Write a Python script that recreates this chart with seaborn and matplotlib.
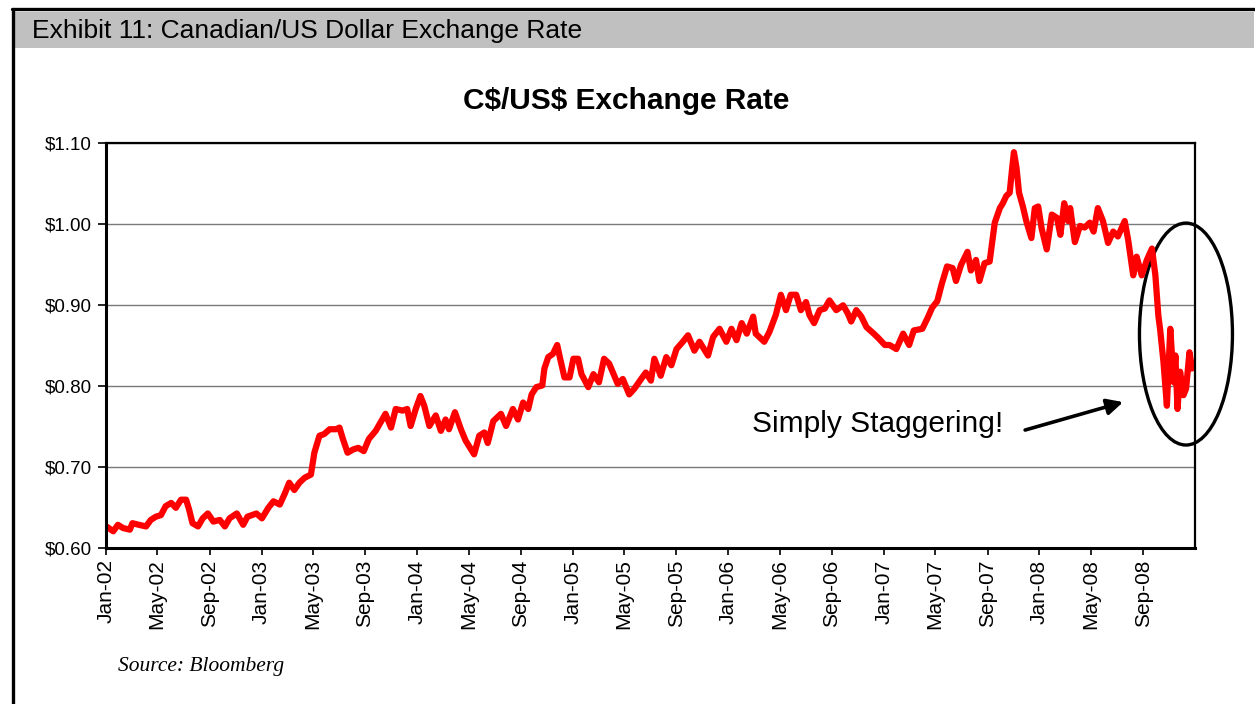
import matplotlib
matplotlib.use("Agg")
import matplotlib.pyplot as plt
import matplotlib.dates as mdates
from matplotlib.lines import Line2D
from matplotlib.patches import Ellipse, Rectangle
from matplotlib.ticker import FuncFormatter
import numpy as np
import pandas as pd
import seaborn as sns

# C$/US$ rate (roughly every 2 weeks)
dates = [
    "2002-01-02", "2002-01-18", "2002-01-29", "2002-02-10", "2002-02-26", "2002-03-04",
    "2002-03-19", "2002-04-05", "2002-04-16", "2002-04-28", "2002-05-10", "2002-05-21",
    "2002-06-03", "2002-06-14", "2002-06-26", "2002-07-08", "2002-07-15", "2002-07-23",
    "2002-08-05", "2002-08-16", "2002-08-28", "2002-09-10", "2002-09-25", "2002-10-07",
    "2002-10-18", "2002-11-04", "2002-11-19", "2002-11-29", "2002-12-20", "2003-01-02",
    "2003-01-17", "2003-01-29", "2003-02-13", "2003-02-25", "2003-03-07", "2003-03-19",
    "2003-03-31", "2003-04-12", "2003-04-27", "2003-05-05", "2003-05-17", "2003-05-28",
    "2003-06-10", "2003-06-25", "2003-07-03", "2003-07-11", "2003-07-22", "2003-08-04",
    "2003-08-16", "2003-08-29", "2003-09-10", "2003-09-26", "2003-10-07", "2003-10-19",
    "2003-11-01", "2003-11-12", "2003-11-28", "2003-12-09", "2003-12-17", "2003-12-29",
    "2004-01-09", "2004-01-18", "2004-01-30", "2004-02-14", "2004-02-26", "2004-03-08",
    "2004-03-16", "2004-03-30", "2004-04-13", "2004-04-24", "2004-05-14", "2004-05-26",
    "2004-06-07", "2004-06-15", "2004-06-28", "2004-07-16", "2004-07-28", "2004-08-13",
    "2004-08-25", "2004-09-06", "2004-09-18", "2004-09-26", "2004-10-07", "2004-10-21",
    "2004-10-26", "2004-11-04", "2004-11-15", "2004-11-25", "2004-12-02", "2004-12-12",
    "2004-12-24", "2005-01-02", "2005-01-13", "2005-01-21", "2005-02-06", "2005-02-18",
    "2005-03-03", "2005-03-15", "2005-03-27", "2005-04-08", "2005-04-16", "2005-04-28",
    "2005-05-13", "2005-05-25", "2005-06-10", "2005-06-21", "2005-07-03", "2005-07-11",
    "2005-07-26", "2005-08-08", "2005-08-20", "2005-09-01", "2005-09-16", "2005-09-28",
    "2005-10-13", "2005-10-25", "2005-11-14", "2005-11-26", "2005-12-11", "2005-12-27",
    "2006-01-08", "2006-01-20", "2006-02-01", "2006-02-13", "2006-02-28", "2006-03-06",
    "2006-03-26", "2006-04-07", "2006-04-22", "2006-05-04", "2006-05-16", "2006-05-27",
    "2006-06-09", "2006-06-20", "2006-07-02", "2006-07-10", "2006-07-21", "2006-08-03",
    "2006-08-15", "2006-08-26", "2006-09-11", "2006-09-27", "2006-10-08", "2006-10-16",
    "2006-10-28", "2006-11-09", "2006-11-21", "2006-12-06", "2006-12-18", "2007-01-03",
    "2007-01-14", "2007-01-30", "2007-02-15", "2007-03-01", "2007-03-12", "2007-04-01",
    "2007-04-13", "2007-04-24", "2007-05-06", "2007-05-17", "2007-05-29", "2007-06-11",
    "2007-06-19", "2007-07-01", "2007-07-16", "2007-07-24", "2007-08-05", "2007-08-13",
    "2007-08-25", "2007-09-06", "2007-09-18", "2007-09-30", "2007-10-07", "2007-10-15",
    "2007-10-23", "2007-10-29", "2007-11-02", "2007-11-08", "2007-11-14", "2007-11-23",
    "2007-12-01", "2007-12-13", "2007-12-21", "2007-12-29", "2008-01-06", "2008-01-18",
    "2008-01-30", "2008-02-11", "2008-02-19", "2008-02-28", "2008-03-08", "2008-03-13",
    "2008-03-24", "2008-04-05", "2008-04-16", "2008-04-28", "2008-05-07", "2008-05-17",
    "2008-05-29", "2008-06-10", "2008-06-22", "2008-07-03", "2008-07-19", "2008-07-27",
    "2008-08-08", "2008-08-16", "2008-08-28", "2008-09-09", "2008-09-21", "2008-09-29",
    "2008-10-06", "2008-10-10", "2008-10-18", "2008-10-26", "2008-11-03", "2008-11-11",
    "2008-11-15", "2008-11-20", "2008-11-26", "2008-12-04", "2008-12-10", "2008-12-18",
    "2008-12-24", "2008-12-31",
]
rates = [
    0.627, 0.621, 0.629, 0.625, 0.623, 0.631,
    0.629, 0.627, 0.635, 0.639, 0.641, 0.652,
    0.656, 0.650, 0.660, 0.660, 0.648, 0.631,
    0.627, 0.637, 0.643, 0.633, 0.635, 0.627,
    0.637, 0.643, 0.629, 0.639, 0.643, 0.637,
    0.650, 0.658, 0.654, 0.668, 0.681, 0.672,
    0.681, 0.687, 0.691, 0.718, 0.739, 0.741,
    0.747, 0.747, 0.749, 0.735, 0.718, 0.722,
    0.724, 0.720, 0.735, 0.745, 0.755, 0.766,
    0.749, 0.772, 0.770, 0.772, 0.751, 0.772,
    0.788, 0.776, 0.751, 0.764, 0.745, 0.759,
    0.747, 0.768, 0.747, 0.733, 0.716, 0.739,
    0.743, 0.730, 0.757, 0.766, 0.751, 0.772,
    0.759, 0.780, 0.772, 0.790, 0.799, 0.801,
    0.822, 0.836, 0.840, 0.851, 0.834, 0.811,
    0.811, 0.834, 0.834, 0.815, 0.799, 0.815,
    0.805, 0.834, 0.828, 0.813, 0.803, 0.809,
    0.790, 0.797, 0.809, 0.817, 0.807, 0.834,
    0.813, 0.836, 0.826, 0.846, 0.855, 0.863,
    0.844, 0.855, 0.838, 0.861, 0.871, 0.855,
    0.871, 0.857, 0.878, 0.865, 0.886, 0.865,
    0.855, 0.867, 0.888, 0.913, 0.894, 0.913,
    0.913, 0.894, 0.904, 0.888, 0.878, 0.894,
    0.896, 0.906, 0.894, 0.900, 0.890, 0.880,
    0.894, 0.886, 0.873, 0.866, 0.860, 0.851,
    0.851, 0.846, 0.865, 0.851, 0.869, 0.871,
    0.884, 0.897, 0.905, 0.927, 0.948, 0.946,
    0.930, 0.950, 0.966, 0.943, 0.956, 0.930,
    0.952, 0.954, 1.002, 1.020, 1.026, 1.035,
    1.039, 1.070, 1.089, 1.070, 1.039, 1.022,
    1.004, 0.983, 1.020, 1.022, 0.995, 0.969,
    1.012, 1.008, 0.987, 1.026, 1.004, 1.020,
    0.978, 0.998, 0.996, 1.002, 0.991, 1.020,
    1.004, 0.977, 0.991, 0.985, 1.004, 0.981,
    0.937, 0.960, 0.937, 0.956, 0.970, 0.937,
    0.887, 0.871, 0.830, 0.776, 0.871, 0.805,
    0.838, 0.772, 0.818, 0.789, 0.797, 0.842,
    0.822, 0.826,
]
tick_dates = pd.date_range("2002-01-01", "2008-09-01", freq="4MS")
y_ticks = [0.60, 0.70, 0.80, 0.90, 1.00, 1.10]

df = pd.DataFrame({"date": pd.to_datetime(dates), "rate": rates})

sns.set_style("white")
plt.rcParams["font.family"] = ["Liberation Sans", "DejaVu Sans"]
plt.rcParams["text.color"] = "black"
plt.rcParams["xtick.color"] = "black"
plt.rcParams["ytick.color"] = "black"

fig = plt.figure(figsize=(12.55, 7.04), dpi=100)
ax = fig.add_axes([106 / 1255, 1 - 548.3 / 704, 1089 / 1255, 405 / 704])

sns.lineplot(data=df, x="date", y="rate", ax=ax, color="#ff0000",
             linewidth=4.5, solid_joinstyle="round", solid_capstyle="round")

ax.set_xlim(pd.Timestamp("2002-01-01"), pd.Timestamp("2008-12-31"))
ax.set_ylim(0.60, 1.10)
ax.set_xticks(tick_dates)
ax.xaxis.set_major_formatter(mdates.DateFormatter("%b-%y"))
ax.set_yticks(y_ticks)
ax.yaxis.set_major_formatter(FuncFormatter(lambda v, p: "\\$%.2f" % v))
ax.set_xlabel("")
ax.set_ylabel("")
ax.tick_params(axis="x", rotation=90, labelsize=15, length=5, width=1.2,
               direction="out", bottom=True, pad=3, colors="black")
ax.tick_params(axis="y", labelsize=13.5, length=6, width=1.2,
               direction="out", left=True, pad=4, colors="black")
ax.yaxis.grid(True, color="#7a7a7a", linewidth=1)
ax.xaxis.grid(False)
for side in ["left", "bottom"]:
    ax.spines[side].set_color("black")
    ax.spines[side].set_linewidth(2.2)
for side in ["top", "right"]:
    ax.spines[side].set_color("black")
    ax.spines[side].set_linewidth(1.6)

# annotation
ax.add_patch(Ellipse((0.9917, 0.529), 0.0854, 0.548, transform=ax.transAxes,
                     fill=False, edgecolor="black", linewidth=2.4, clip_on=False))
ax.annotate("", xy=(0.934, 0.361), xytext=(0.844, 0.292),
            xycoords="axes fraction", textcoords="axes fraction",
            arrowprops=dict(arrowstyle="-|>", color="black", lw=2.6,
                            mutation_scale=24, shrinkA=0, shrinkB=0))
ax.text(0.593, 0.307, "Simply Staggering!", transform=ax.transAxes,
        fontsize=21.5, ha="left", va="center", color="black")

# page furniture
fig.patches.append(Rectangle((15 / 1255, 1 - 48 / 704), 1239 / 1255, 36 / 704,
                             transform=fig.transFigure, facecolor="#c0c0c0",
                             edgecolor="none", zorder=0))
fig.add_artist(Line2D([13 / 1255, 13 / 1255], [0, 1 - 9 / 704],
                      transform=fig.transFigure, color="black", linewidth=2.4))
fig.add_artist(Line2D([12 / 1255, 1], [1 - 9 / 704, 1 - 9 / 704],
                      transform=fig.transFigure, color="black", linewidth=2.4))
fig.text(32 / 1255, 1 - 31 / 704, "Exhibit 11: Canadian/US Dollar Exchange Rate",
         fontsize=19, va="center", ha="left", color="black")
fig.text(626 / 1255, 1 - 101 / 704, "C\\$/US\\$ Exchange Rate",
         fontsize=21.5, fontweight="bold", ha="center", va="center", color="black")
fig.text(118 / 1255, 1 - 667 / 704, "Source: Bloomberg", fontsize=15.5,
         style="italic", ha="left", va="center", color="black",
         family=["Liberation Serif", "DejaVu Serif"])

fig.savefig("out.png", dpi=100)
